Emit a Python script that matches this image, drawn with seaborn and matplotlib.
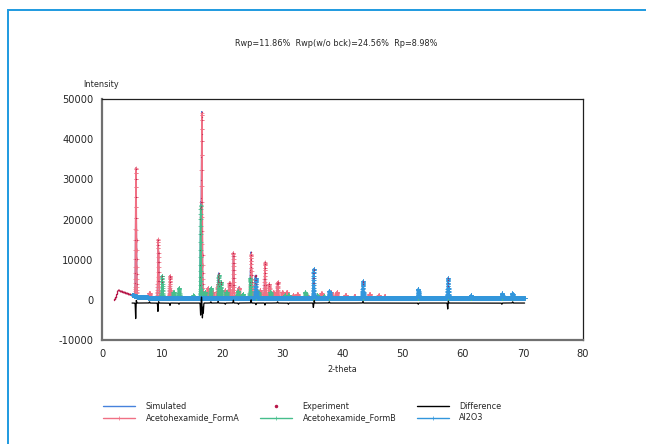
import numpy as np
import matplotlib
matplotlib.use("Agg")
import matplotlib.pyplot as plt
from matplotlib.lines import Line2D
from matplotlib.patches import Rectangle
from matplotlib.ticker import MultipleLocator
import seaborn as sns

# ---- data ----
# background (2-theta, counts)
bg_theta = [2.0, 2.3, 2.6, 3.5, 5.0, 6.0, 8.0, 15.0, 30.0, 50.0, 70.0]
bg_counts = [0, 800, 2500, 2000, 1200, 700, 550, 500, 460, 430, 400]

# Acetohexamide Form A peaks
formA_pos = [5.65, 7.9, 9.35, 11.3, 16.6, 17.6, 18.4, 19.25, 20.5, 21.2, 21.85, 22.75,
             24.8, 25.45, 26.3, 27.1, 27.8, 28.5, 29.2, 30.0, 30.7, 31.8, 32.5, 34.0,
             36.5, 38.1, 39.05, 40.5, 42.0, 44.5, 46.0, 47.0]
formA_height = [32000, 1200, 14500, 5500, 46000, 2500, 1500, 3500, 2000, 3800, 11300, 2500,
                10900, 4800, 2000, 8900, 3500, 1500, 4000, 1500, 1500, 800, 1000, 800,
                1200, 1500, 1500, 800, 600, 1000, 700, 500]

# Acetohexamide Form B peaks
formB_pos = [10.0, 11.9, 12.8, 15.2, 16.4, 17.1, 18.1, 19.4, 19.8, 20.7, 22.6, 23.4,
             24.65, 26.0, 28.0, 30.4, 31.0, 33.8, 35.8, 36.9]
formB_height = [5500, 1500, 2500, 600, 23000, 1500, 2500, 5800, 4000, 1500, 1800, 1000,
                5000, 1500, 1500, 700, 800, 1500, 800, 600]

# Al2O3 (corundum) peaks
al2o3_pos = [25.6, 35.2, 37.8, 43.4, 52.6, 57.55, 61.35, 66.55, 68.25]
al2o3_height = [5000, 7200, 1800, 4200, 2300, 5000, 700, 1200, 1200]

# difference curve: offset and spikes
diff_offset = -800
diff_pos = [5.6, 5.7, 7.9, 9.3, 9.4, 11.3, 12.8, 16.4, 16.55, 16.7, 16.85, 18.1, 19.3,
            20.5, 21.85, 22.7, 24.8, 25.6, 27.1, 29.2, 31.0, 35.15, 35.3, 37.8, 43.4,
            52.6, 57.5, 57.6, 66.5, 68.3]
diff_amp = [-3900, 800, 300, -2100, 400, -600, -300, -3000, 1500, -3700, -2500, 300, 400,
            -300, 700, -300, 800, -400, -500, 300, -300, -1100, 600, 300, 400,
            -300, -1500, 500, -300, 300]

title = "Rwp=11.86%  Rwp(w/o bck)=24.56%  Rp=8.98%"

c_sim = "#4682DC"
c_exp = "#B8184A"
c_diff = "#000000"
c_a = "#F07084"
c_b = "#46BE8C"
c_al = "#3296DC"

# ---- build profiles from the peak tables ----
sigma = 0.07
theta_exp = np.arange(2.0, 70.3, 0.02)
theta_calc = np.arange(5.0, 70.3, 0.01)


def profile(x, pos, height, s=sigma):
    y = np.zeros_like(x)
    for p, h in zip(pos, height):
        y += h * np.exp(-0.5 * ((x - p) / s) ** 2)
    return y


bg_c = np.interp(theta_calc, bg_theta, bg_counts)
pA = profile(theta_calc, formA_pos, formA_height)
pB = profile(theta_calc, formB_pos, formB_height)
pAl = profile(theta_calc, al2o3_pos, al2o3_height)
yA = bg_c + pA
yB = bg_c + pB
yAl = bg_c + pAl
ysim = bg_c + pA + pB + pAl
yexp = np.interp(theta_exp, bg_theta, bg_counts) \
    + profile(theta_exp, formA_pos, formA_height) \
    + profile(theta_exp, formB_pos, formB_height) \
    + profile(theta_exp, al2o3_pos, al2o3_height)
ydiff = diff_offset + profile(theta_calc, diff_pos, diff_amp, s=0.04)

# ---- figure ----
sns.set_style("white")
plt.rcParams["font.family"] = ["DejaVu Sans"]
plt.rcParams["axes.unicode_minus"] = False
fs = 7.1
fs_small = 5.9

fig = plt.figure(figsize=(6.46, 4.44), dpi=100)
ax = fig.add_axes([102 / 646, 1 - 340 / 444, (583 - 102) / 646, (340 - 99) / 444])

plus = dict(marker="+", markersize=2.4, markeredgewidth=0.5)
ax.plot(theta_calc, ysim, color=c_sim, lw=0.8)
ax.plot(theta_exp, yexp, ".", color=c_exp, markersize=1.8, markeredgewidth=0)
ax.plot(theta_calc, yA, color=c_a, lw=1.0, **plus)
ax.plot(theta_calc, yB, color=c_b, lw=1.0, **plus)
ax.plot(theta_calc, yAl, color=c_al, lw=1.4, marker="+", markersize=2.8, markeredgewidth=0.7)
top = yexp > np.interp(theta_exp, bg_theta, bg_counts) + 3000
ax.plot(theta_exp[top], yexp[top], ".", color=c_exp, markersize=1.6, markeredgewidth=0,
        alpha=0.7)
sns.lineplot(x=theta_calc, y=ydiff, ax=ax, color=c_diff, lw=0.9, sort=False, estimator=None)

ax.set_xlim(0, 80)
ax.set_ylim(-10000, 50000)
ax.xaxis.set_major_locator(MultipleLocator(10))
ax.xaxis.set_minor_locator(MultipleLocator(5))
ax.yaxis.set_major_locator(MultipleLocator(10000))
ax.yaxis.set_minor_locator(MultipleLocator(5000))

for side in ["left", "bottom"]:
    ax.spines[side].set_color("#707070")
    ax.spines[side].set_linewidth(1.6)
for side in ["top", "right"]:
    ax.spines[side].set_color("#202020")
    ax.spines[side].set_linewidth(0.9)

ax.tick_params(axis="y", which="both", direction="out", length=4, width=1,
               color="#505050", labelsize=fs, pad=2)
ax.tick_params(axis="x", which="both", direction="inout", length=7, width=1,
               color="#505050", labelsize=fs, pad=3)
ax.set_xlabel("2-theta", fontsize=fs_small, labelpad=4)
ax.set_ylabel("")
fig.text(101 / 646, 1 - 84 / 444, "Intensity", fontsize=fs_small, ha="center", va="center")
fig.text(336 / 646, 1 - 44 / 444, title, fontsize=fs_small, ha="center", va="center")

# outer blue frame
fig.add_artist(Rectangle((7.5 / 646, -0.1), 1.2, 1 - 10.5 / 444 + 0.1,
                         transform=fig.transFigure, fill=False,
                         edgecolor="#1E9AE0", lw=1.4))

handles = [
    Line2D([0], [0], color=c_sim, lw=1),
    Line2D([0], [0], color=c_a, lw=1, **plus),
    Line2D([0], [0], color=c_exp, lw=0, marker=".", markersize=3),
    Line2D([0], [0], color=c_b, lw=1, **plus),
    Line2D([0], [0], color=c_diff, lw=1),
    Line2D([0], [0], color=c_al, lw=1, **plus),
]
labels = ["Simulated", "Acetohexamide_FormA", "Experiment", "Acetohexamide_FormB",
          "Difference", "Al2O3"]
fig.legend(handles, labels, ncol=3, loc="upper left",
           bbox_to_anchor=(103 / 646, 1 - 402 / 444), frameon=False, fontsize=fs_small,
           handlelength=3.9, handletextpad=1.3, columnspacing=2.5, labelspacing=0.3,
           borderpad=0, borderaxespad=0)

fig.savefig("out.png", dpi=100)
